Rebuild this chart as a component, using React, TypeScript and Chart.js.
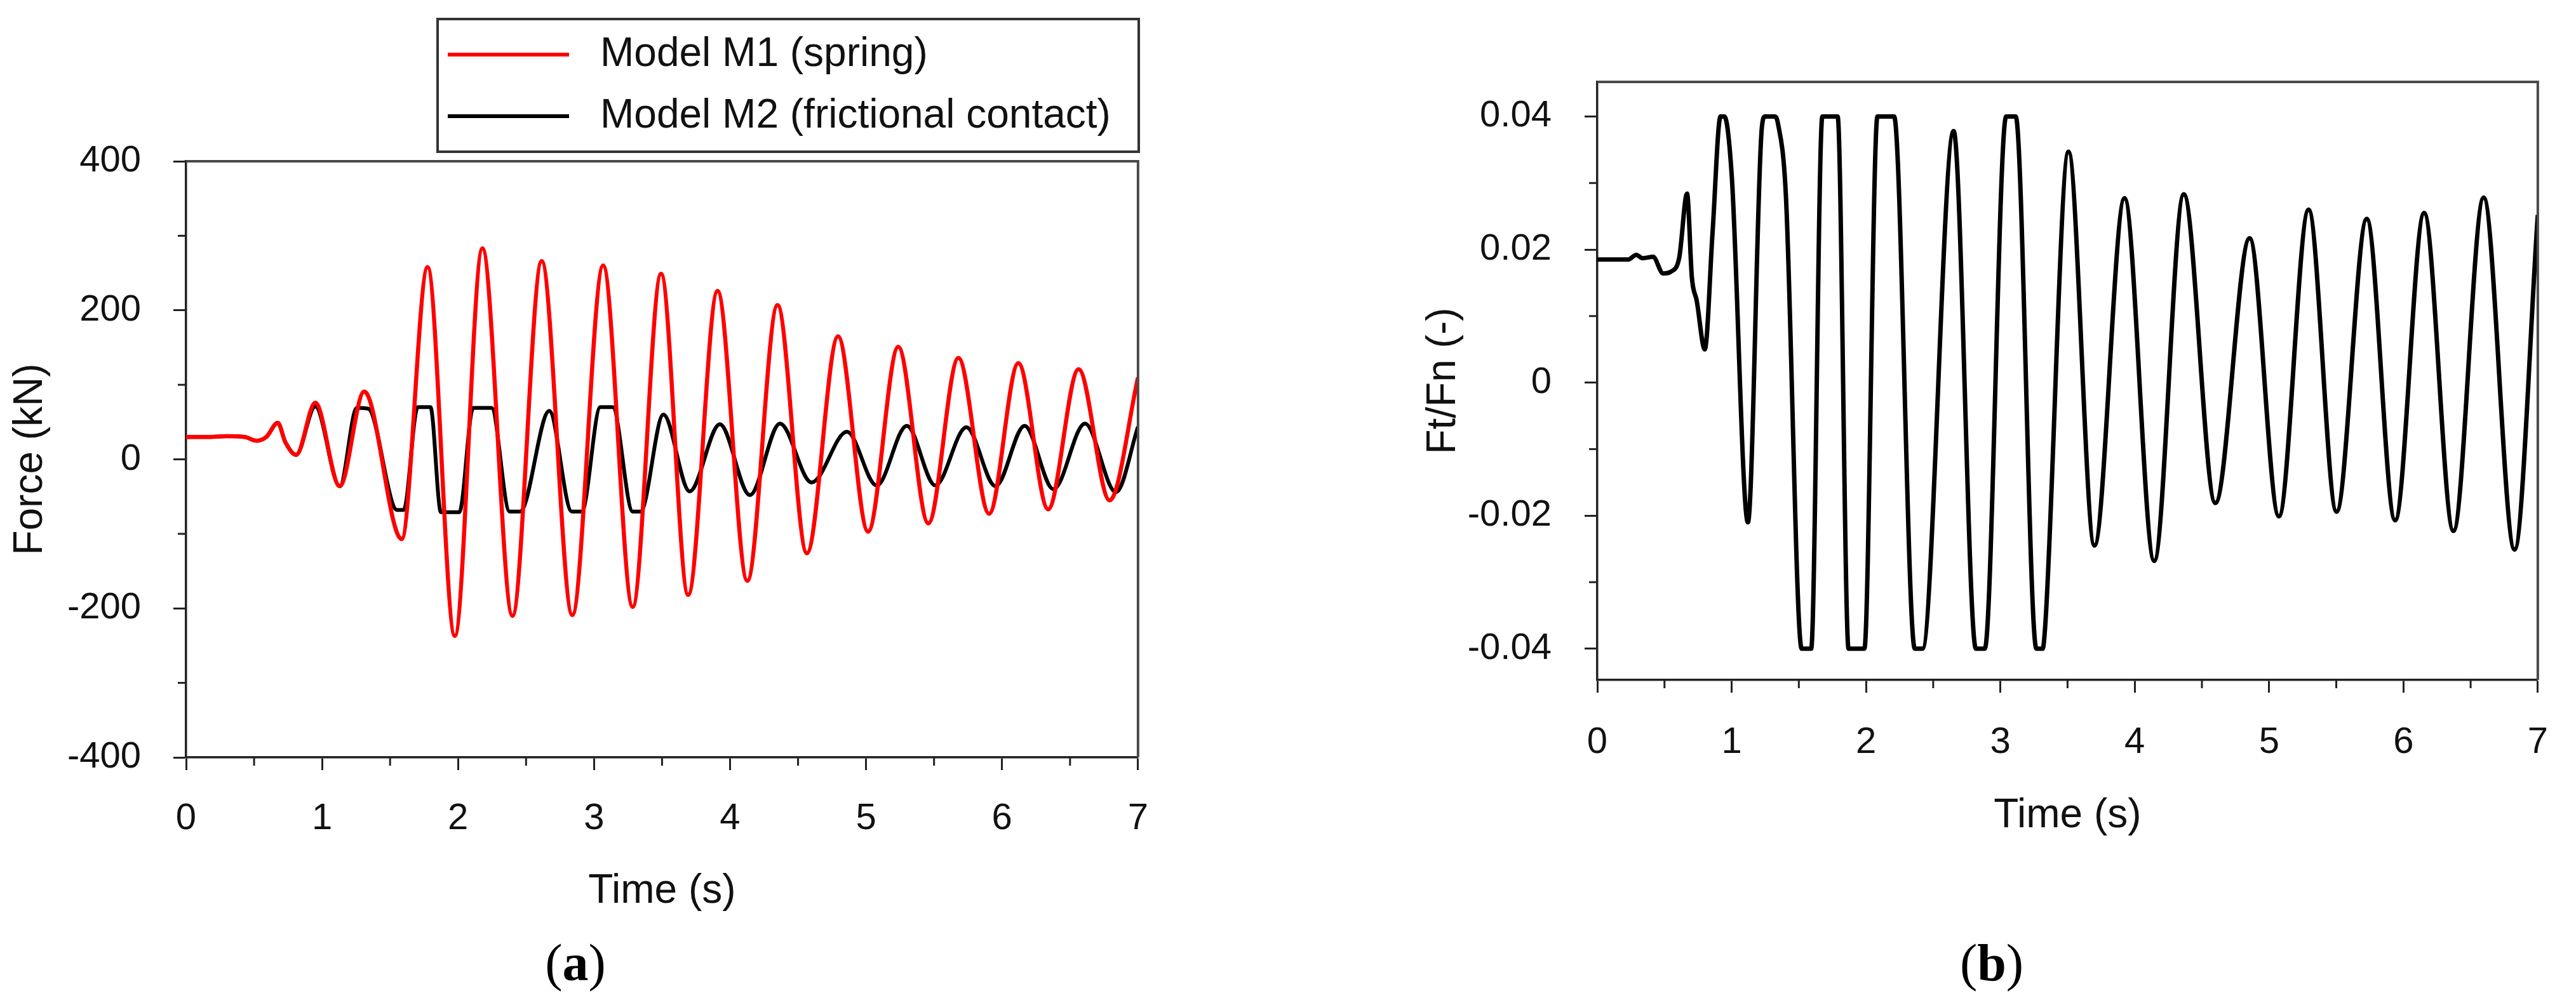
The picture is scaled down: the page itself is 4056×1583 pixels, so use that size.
import React, { useEffect, useRef } from 'react';
import { Chart, registerables } from 'chart.js';

Chart.register(...registerables);

// ---------- data ----------
const seriesNames = ['Model M1 (spring)', 'Model M2 (frictional contact)'];

const m1Time = [0, 0.15, 0.3, 0.43, 0.52, 0.59, 0.674, 0.73, 0.81, 0.95, 1.13, 1.31, 1.585, 1.776, 1.976, 2.179, 2.4, 2.615, 2.84, 3.067, 3.284, 3.493, 3.692, 3.908, 4.127, 4.349, 4.565, 4.794, 5.015, 5.237, 5.458, 5.679, 5.905, 6.12, 6.339, 6.563, 6.791, 7.0];
const m1Force = [30, 30, 31, 30, 25, 30, 49, 23, 6, 76, -36, 91, -107, 258, -237, 283, -210, 266, -209, 260, -198, 249, -182, 226, -163, 207, -126, 165, -97, 151, -86, 136, -73, 129, -67, 121, -55, 110];

const m2Time = [0, 0.15, 0.3, 0.43, 0.52, 0.59, 0.674, 0.73, 0.81, 0.95, 1.13, 1.256, 1.34, 1.552, 1.6, 1.704, 1.797, 1.874, 2.009, 2.111, 2.246, 2.379, 2.456, 2.671, 2.836, 2.91, 3.046, 3.137, 3.284, 3.342, 3.51, 3.703, 3.925, 4.146, 4.367, 4.6, 4.86, 5.078, 5.3, 5.509, 5.738, 5.952, 6.166, 6.378, 6.61, 6.838, 7.0];
const m2Force = [30, 30, 31, 30, 25, 30, 49, 23, 6, 71, -36, 69, 68, -68, -68, 70, 70, -71, -71, 69, 69, -70, -70, 65, -70, -70, 70, 70, -70, -70, 60, -43, 47, -48, 48, -31, 37, -35, 45, -35, 43, -36, 45, -40, 48, -44, 44];

const ratioTime = [0, 0.23, 0.29, 0.336, 0.415, 0.49, 0.55, 0.61, 0.668, 0.704, 0.74, 0.8, 0.858, 0.917, 0.946, 1.0, 1.121, 1.225, 1.249, 1.32, 1.344, 1.403, 1.521, 1.592, 1.675, 1.789, 1.87, 1.988, 2.085, 2.209, 2.363, 2.42, 2.652, 2.818, 2.884, 3.043, 3.114, 3.268, 3.315, 3.334, 3.507, 3.7, 3.924, 4.145, 4.365, 4.6, 4.855, 5.073, 5.294, 5.502, 5.727, 5.938, 6.154, 6.372, 6.597, 6.827, 7.0];
const ratioValue = [0.0185, 0.0185, 0.0192, 0.0187, 0.0189, 0.0164, 0.0167, 0.0188, 0.0284, 0.0158, 0.0123, 0.005, 0.0226, 0.04, 0.04, 0.0313, -0.021, 0.0384, 0.04, 0.04, 0.039, 0.0284, -0.04, -0.04, 0.04, 0.04, -0.04, -0.04, 0.04, 0.04, -0.04, -0.04, 0.0378, -0.04, -0.04, 0.04, 0.04, -0.04, -0.04, -0.0365, 0.0347, -0.0245, 0.0277, -0.0268, 0.0283, -0.0181, 0.0217, -0.0201, 0.026, -0.0194, 0.0246, -0.0207, 0.0255, -0.0223, 0.0278, -0.0251, 0.0252];

const timeTickLabels = ['0', '1', '2', '3', '4', '5', '6', '7'];
const forceTickLabels = ['-400', '-200', '0', '200', '400'];
const ratioTickLabels = ['-0.04', '-0.02', '0', '0.02', '0.04'];

// ---------- styling ----------
const SANS = '"Liberation Sans", Arial, Helvetica, sans-serif';
const SERIF = '"Liberation Serif", "Times New Roman", serif';
const TEXT = '#111111';
const AXIS = '#222222';

const toPoints = (xs: number[], ys: number[]) => xs.map((x, i) => ({ x, y: ys[i] }));

const framePlugin = {
  id: 'frameTicks',
  afterDraw(chart: any, _args: any, o: any) {
    const { ctx, chartArea } = chart;
    const { left, top, right, bottom } = chartArea;
    ctx.save();
    ctx.lineCap = 'butt';
    ctx.strokeStyle = o.frameColor;
    ctx.lineWidth = o.frameWidth;
    ctx.beginPath();
    ctx.moveTo(left, top);
    ctx.lineTo(right, top);
    ctx.lineTo(right, bottom);
    ctx.stroke();
    ctx.strokeStyle = o.tickColor;
    ctx.lineWidth = o.tickWidth;
    const xs = chart.scales.x;
    const ys = chart.scales.y;
    xs.ticks.forEach((t: any) => {
      if (t.label === '') {
        const px = xs.getPixelForValue(t.value);
        ctx.beginPath();
        ctx.moveTo(px, bottom);
        ctx.lineTo(px, bottom + o.minorLength);
        ctx.stroke();
      }
    });
    ys.ticks.forEach((t: any) => {
      if (t.label === '') {
        const py = ys.getPixelForValue(t.value);
        ctx.beginPath();
        ctx.moveTo(left, py);
        ctx.lineTo(left - o.minorLength, py);
        ctx.stroke();
      }
    });
    ctx.restore();
  },
};

const boxedLegendPlugin = {
  id: 'boxedLegend',
  afterDraw(chart: any, _args: any, o: any) {
    if (!o || !o.show) return;
    const { ctx } = chart;
    ctx.save();
    ctx.strokeStyle = o.borderColor;
    ctx.lineWidth = o.borderWidth;
    ctx.strokeRect(o.left, o.top, o.right - o.left, o.bottom - o.top);
    ctx.font = o.font;
    ctx.textBaseline = 'middle';
    ctx.textAlign = 'left';
    chart.data.datasets.forEach((ds: any, i: number) => {
      const y = o.firstRowY + i * o.rowGap;
      ctx.strokeStyle = ds.borderColor;
      ctx.lineWidth = o.sampleWidth;
      ctx.beginPath();
      ctx.moveTo(o.sampleStart, y);
      ctx.lineTo(o.sampleEnd, y);
      ctx.stroke();
      ctx.fillStyle = o.textColor;
      ctx.fillText(ds.label, o.textX, y);
    });
    ctx.restore();
  },
};

const timeLabel = (v: number) => {
  const r = Math.round(v);
  if (Math.abs(v - r) > 1e-6) return '';
  const s = String(r);
  return timeTickLabels.includes(s) ? s : '';
};
const forceLabel = (v: number) => {
  const s = String(Math.round(v));
  return forceTickLabels.includes(s) ? s : '';
};
const ratioLabel = (v: number) => {
  const s = String(Math.round(v * 100) / 100);
  return Math.abs(v * 100 - Math.round(v * 100)) < 1e-6 && ratioTickLabels.includes(s) ? s : '';
};

function buildOptions(p: any) {
  const tickColor = (c: any) => (c.tick && c.tick.label === '' ? 'rgba(0,0,0,0)' : AXIS);
  return {
    responsive: false,
    maintainAspectRatio: false,
    animation: false,
    devicePixelRatio: 1,
    layout: { padding: p.padding },
    elements: { point: { radius: 0 } },
    plugins: {
      legend: { display: false },
      tooltip: { enabled: false },
      frameTicks: { frameColor: '#4a4a4a', frameWidth: 4, tickColor: AXIS, tickWidth: 3, minorLength: 13 },
      boxedLegend: p.legend || { show: false },
    },
    scales: {
      x: {
        type: 'linear',
        min: 0,
        max: 7,
        afterFit: (s: any) => { s.height = p.xHeight; },
        border: { display: true, color: AXIS, width: 3.5 },
        grid: { display: true, drawOnChartArea: false, drawTicks: true, tickLength: 20, tickWidth: 3, tickColor },
        ticks: { stepSize: 0.5, autoSkip: false, maxRotation: 0, padding: p.xTickPad, color: TEXT, font: { family: SANS, size: 58 }, callback: (v: number) => timeLabel(v) },
        title: { display: true, text: 'Time (s)', color: TEXT, font: { family: SANS, size: 64 }, padding: { top: 0, bottom: p.xTitlePad } },
      },
      y: {
        type: 'linear',
        min: p.yMin,
        max: p.yMax,
        afterFit: (s: any) => { s.width = p.yWidth; },
        border: { display: true, color: AXIS, width: 3.5 },
        grid: { display: true, drawOnChartArea: false, drawTicks: true, tickLength: 20, tickWidth: 3, tickColor },
        ticks: { stepSize: p.yStep, includeBounds: false, autoSkip: false, padding: p.yTickPad, color: TEXT, font: { family: SANS, size: 58 }, callback: p.yFormat },
        title: { display: true, text: p.yTitle, color: TEXT, font: { family: SANS, size: 64 }, padding: { top: p.yTitlePad, bottom: 0 } },
      },
    },
  };
}

function ForceChart() {
  const ref = useRef<HTMLCanvasElement | null>(null);
  useEffect(() => {
    if (!ref.current) return;
    const chart = new Chart(ref.current, {
      type: 'line',
      data: {
        datasets: [
          { label: seriesNames[0], data: toPoints(m1Time, m1Force), borderColor: '#ff0000', borderWidth: 6.5, fill: false, cubicInterpolationMode: 'monotone' },
          { label: seriesNames[1], data: toPoints(m2Time, m2Force), borderColor: '#000000', borderWidth: 6, fill: false, cubicInterpolationMode: 'monotone' },
        ],
      },
      options: buildOptions({
        padding: { left: 0, top: 254, right: 55, bottom: 0 },
        xHeight: 390,
        xTickPad: 42,
        xTitlePad: 140,
        yMin: -400,
        yMax: 400,
        yStep: 100,
        yWidth: 293,
        yTickPad: 51,
        yTitlePad: 10,
        yTitle: 'Force (kN)',
        yFormat: (v: number) => forceLabel(v),
        legend: {
          show: true,
          left: 689, top: 30, right: 1793, bottom: 239,
          borderColor: '#333333', borderWidth: 4,
          sampleStart: 705, sampleEnd: 896, sampleWidth: 6,
          textX: 945, firstRowY: 86, rowGap: 97,
          font: `64px ${SANS}`, textColor: TEXT,
        },
      }) as any,
      plugins: [framePlugin, boxedLegendPlugin],
    } as any);
    return () => chart.destroy();
  }, []);
  return <canvas ref={ref} width={1850} height={1583} style={{ position: 'absolute', left: 0, top: 0, width: 1850, height: 1583 }} />;
}

function RatioChart() {
  const ref = useRef<HTMLCanvasElement | null>(null);
  useEffect(() => {
    if (!ref.current) return;
    const chart = new Chart(ref.current, {
      type: 'line',
      data: {
        datasets: [
          { label: 'Ft/Fn', data: toPoints(ratioTime, ratioValue), borderColor: '#000000', borderWidth: 7, fill: false, cubicInterpolationMode: 'monotone' },
        ],
      },
      options: buildOptions({
        padding: { left: 0, top: 129, right: 32, bottom: 0 },
        xHeight: 512,
        xTickPad: 44,
        xTitlePad: 259,
        yMin: -0.0447,
        yMax: 0.0452,
        yStep: 0.01,
        yWidth: 485,
        yTickPad: 52,
        yTitlePad: 205,
        yTitle: 'Ft/Fn (-)',
        yFormat: (v: number) => ratioLabel(v),
      }) as any,
      plugins: [framePlugin],
    } as any);
    return () => chart.destroy();
  }, []);
  return <canvas ref={ref} width={2026} height={1583} style={{ position: 'absolute', left: 2030, top: 0, width: 2026, height: 1583 }} />;
}

const panelLabel: React.CSSProperties = {
  position: 'absolute',
  top: 1476,
  width: 300,
  textAlign: 'center',
  fontFamily: SERIF,
  fontSize: 82,
  lineHeight: 1,
  color: '#000',
};

export default function App() {
  useEffect(() => {
    document.body.style.margin = '0';
    document.body.style.background = '#ffffff';
  }, []);
  return (
    <div style={{ position: 'absolute', left: 0, top: 0, width: 4056, height: 1583, background: '#ffffff', overflow: 'hidden' }}>
      <ForceChart />
      <RatioChart />
      <div style={{ ...panelLabel, left: 906 - 150 }}>(<b>a</b>)</div>
      <div style={{ ...panelLabel, left: 3136 - 150 }}>(<b>b</b>)</div>
    </div>
  );
}
